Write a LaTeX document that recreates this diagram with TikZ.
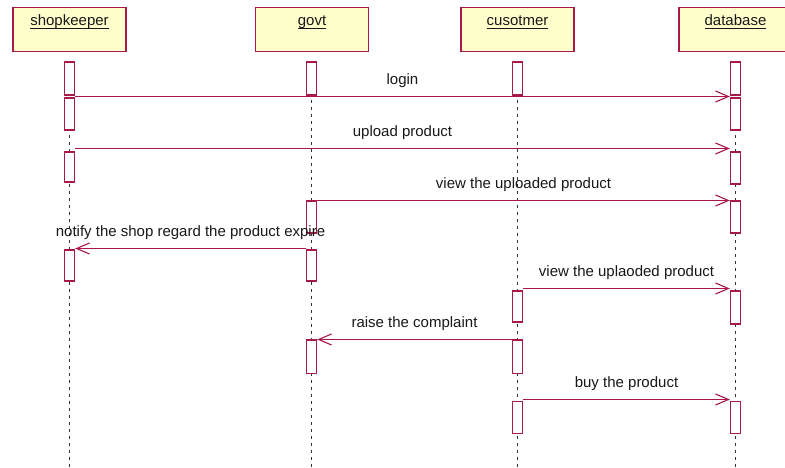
\documentclass[tikz,border=0pt]{standalone}
\usepackage{fontspec}
\setmainfont{Liberation Sans}
\usetikzlibrary{arrows.meta,backgrounds}
\definecolor{rose}{RGB}{168,24,72}
\definecolor{objfill}{RGB}{255,255,204}
\definecolor{ink}{RGB}{24,24,24}
\newcommand{\seqfont}{\fontsize{15bp}{18bp}\selectfont}
% object names are underlined at a fixed depth below the baseline
\newcommand{\objname}[1]{\setbox0\hbox{#1}\rlap{\rule[-2.8bp]{\wd0}{0.8bp}}\box0}
\tikzset{
  obj/.style ={draw=rose, fill=objfill, line width=1.3bp, anchor=north,
               minimum width=113bp, minimum height=44bp, inner sep=4bp,
               text height=14bp, text depth=22bp, text=ink, font=\seqfont},
  act/.style ={draw=rose, fill=white, line width=1.3bp, anchor=north,
               minimum width=10bp, minimum height=32bp, inner sep=0pt},
  life/.style={draw=black!80, line width=1bp, dash pattern=on 3bp off 4bp},
  msg/.style ={draw=rose, line width=1.1bp,
               -{Straight Barb[length=13bp, width=11bp, line width=1.1bp]}},
  lbl/.style ={midway, anchor=base, yshift=11.5bp, inner sep=0pt,
               text=ink, font=\seqfont}
}

\begin{document}
\begin{tikzpicture}[x=1bp, y=-1bp]
  \useasboundingbox (0,0) rectangle (785,468);
  \clip (0,0) rectangle (785,468);

  % objects
  \node[obj](shop) at (69.5,7)  {\objname{shopkeeper}};
  \node[obj](govt) at (312,7)   {\objname{govt}};
  \node[obj](cust) at (517.5,7) {\objname{cusotmer}};
  \node[obj](db)   at (735.5,7) {\objname{database}};

  % activations
  \node[act, minimum height=33bp](sk1) at (69.5,61.5) {};
  \node[act](sk2) at (69.5,97.5)  {};
  \node[act, minimum height=30bp](sk3) at (69.5,151.5) {};
  \node[act, minimum height=31bp](sk4) at (69.5,249.5) {};

  \node[act, minimum height=33bp](gv1) at (311.5,61.5) {};
  \node[act](gv2) at (311.5,200.5) {};
  \node[act, minimum height=31bp](gv3) at (311.5,249.5) {};
  \node[act, minimum height=33bp](gv4) at (311.5,339.5) {};

  \node[act, minimum height=33bp](cu1) at (517.5,61.5) {};
  \node[act, minimum height=31bp](cu2) at (517.5,290.5) {};
  \node[act, minimum height=33bp](cu3) at (517.5,339.5) {};
  \node[act](cu4) at (517.5,400.5) {};

  \node[act, minimum height=33bp](db1) at (735.5,61.5) {};
  \node[act](db2) at (735.5,97.5)  {};
  \node[act](db3) at (735.5,151.5) {};
  \node[act](db4) at (735.5,200.5) {};
  \node[act, minimum height=33bp](db5) at (735.5,290.5) {};
  \node[act](db6) at (735.5,400.5) {};

  % lifelines
  \coordinate (skEnd) at (69.5,468);
  \coordinate (gvEnd) at (311.5,468);
  \coordinate (cuEnd) at (517.5,468);
  \coordinate (dbEnd) at (735.5,468);
  \begin{scope}[on background layer]
    \draw[life](sk1.center)--(skEnd);
    \draw[life](gv1.center)--(gvEnd);
    \draw[life](cu1.center)--(cuEnd);
    \draw[life](db1.center)--(dbEnd);
  \end{scope}

  % messages
  \draw[msg]([yshift=1bp]sk2.north east)--([yshift=1bp]db2.north west)
        node[lbl]{login};
  \draw[msg]([yshift=3bp]sk3.north east)--([yshift=3bp]db3.north west)
        node[lbl]{upload product};
  \draw[msg](gv2.north east)--(db4.north west)
        node[lbl]{view the uploaded product};
  \draw[msg]([yshift=1bp]gv3.north west)--([yshift=1bp]sk4.north east)
        node[lbl]{notify the shop regard the product expire};
  \draw[msg]([yshift=2bp]cu2.north east)--([yshift=2bp]db5.north west)
        node[lbl]{view the uplaoded product};
  \draw[msg](cu3.north west)--(gv4.north east)
        node[lbl]{raise the complaint};
  \draw[msg]([yshift=1bp]cu4.north east)--([yshift=1bp]db6.north west)
        node[lbl]{buy the product};
\end{tikzpicture}
\end{document}
